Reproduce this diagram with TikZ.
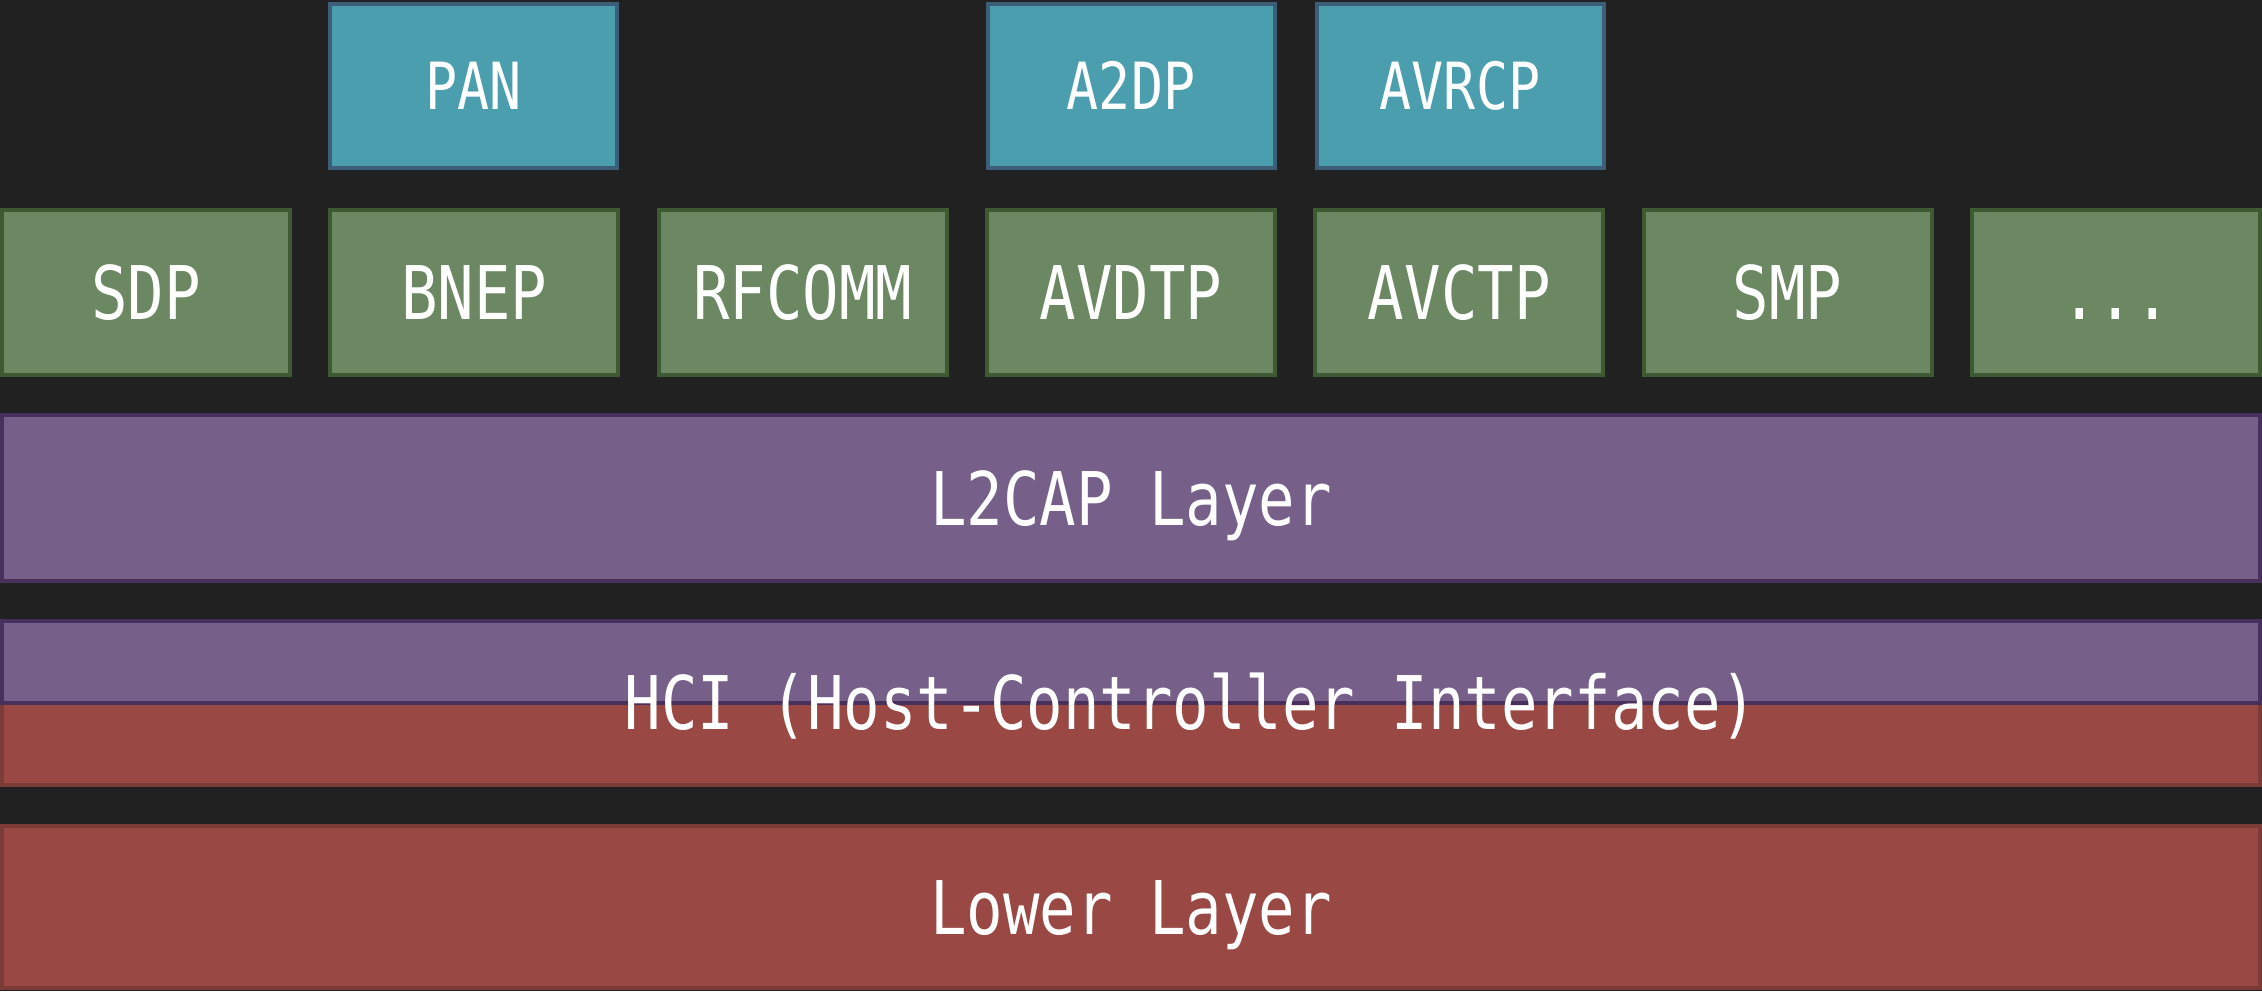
\documentclass[tikz,border=0pt]{standalone}
\usepackage{fontspec}
\newfontfamily\stackfont[FakeStretch=0.82]{DejaVu Sans Mono}
\definecolor{bgdark}{HTML}{212121}
\definecolor{protofill}{HTML}{6B8862}
\definecolor{protoedge}{HTML}{3D5A32}
\definecolor{profilefill}{HTML}{4B9EAD}
\definecolor{profileedge}{HTML}{3D5E78}
\definecolor{hostfill}{HTML}{766089}
\definecolor{hostedge}{HTML}{47305C}
\definecolor{ctrlfill}{HTML}{994844}
\definecolor{ctrledge}{HTML}{7C3B37}
\tikzset{
  layerbox/.style={draw, line width=2pt, inner sep=0pt, text=white,
    text height=27pt, text depth=0pt,
    font=\stackfont\fontsize{37}{40}\selectfont},
  protobox/.style={layerbox, fill=protofill, draw=protoedge,
    minimum width=144pt, minimum height=82.5pt},
  profilebox/.style={layerbox, fill=profilefill, draw=profileedge,
    minimum width=143.5pt, minimum height=82pt, text height=23.7pt,
    font=\stackfont\fontsize{32.5}{35}\selectfont},
  hostbox/.style={layerbox, fill=hostfill, draw=hostedge, minimum width=1129pt},
  ctrlbox/.style={layerbox, fill=ctrlfill, draw=ctrledge, minimum width=1129pt},
  plainlabel/.style={inner sep=0pt, text=white, text height=27pt, text depth=0pt,
    font=\stackfont\fontsize{37}{40}\selectfont}
}
\begin{document}
\begin{tikzpicture}[x=0.5pt,y=-0.5pt]
  % canvas
  \fill[bgdark] (0,0) rectangle (2262,991);
  \useasboundingbox (0,0) rectangle (2262,991);

  % profiles
  \node[profilebox] (pan)   at (473.5,86) {PAN};
  \node[profilebox] (a2dp)  at (1131,86)  {A2DP};
  \node[profilebox] (avrcp) at (1460,86)  {AVRCP};

  % protocols above L2CAP
  \node[protobox] (sdp)    at (146,292.5)    {SDP};
  \node[protobox] (bnep)   at (474.3,292.5)  {BNEP};
  \node[protobox] (rfcomm) at (802.7,292.5)  {RFCOMM};
  \node[protobox] (avdtp)  at (1131,292.5)   {AVDTP};
  \node[protobox] (avctp)  at (1459.3,292.5) {AVCTP};
  \node[protobox] (smp)    at (1787.7,292.5) {SMP};
  \node[protobox] (more)   at (2116,292.5)   {...};

  % L2CAP
  \node[hostbox, minimum height=83pt] (l2cap) at (1131,498) {L2CAP Layer};

  % HCI: controller half below, host half on top
  \node[ctrlbox, minimum height=41.5pt] (hcictrl) at (1131,743.5) {};
  \node[hostbox, minimum height=41pt] (hcihost) at (1131,662) {};
  \node[plainlabel] (hci) at (1191,702) {HCI (Host-Controller Interface)};

  % lower layer
  \node[ctrlbox, minimum height=81pt] (lower) at (1131,907) {Lower Layer};
\end{tikzpicture}
\end{document}
